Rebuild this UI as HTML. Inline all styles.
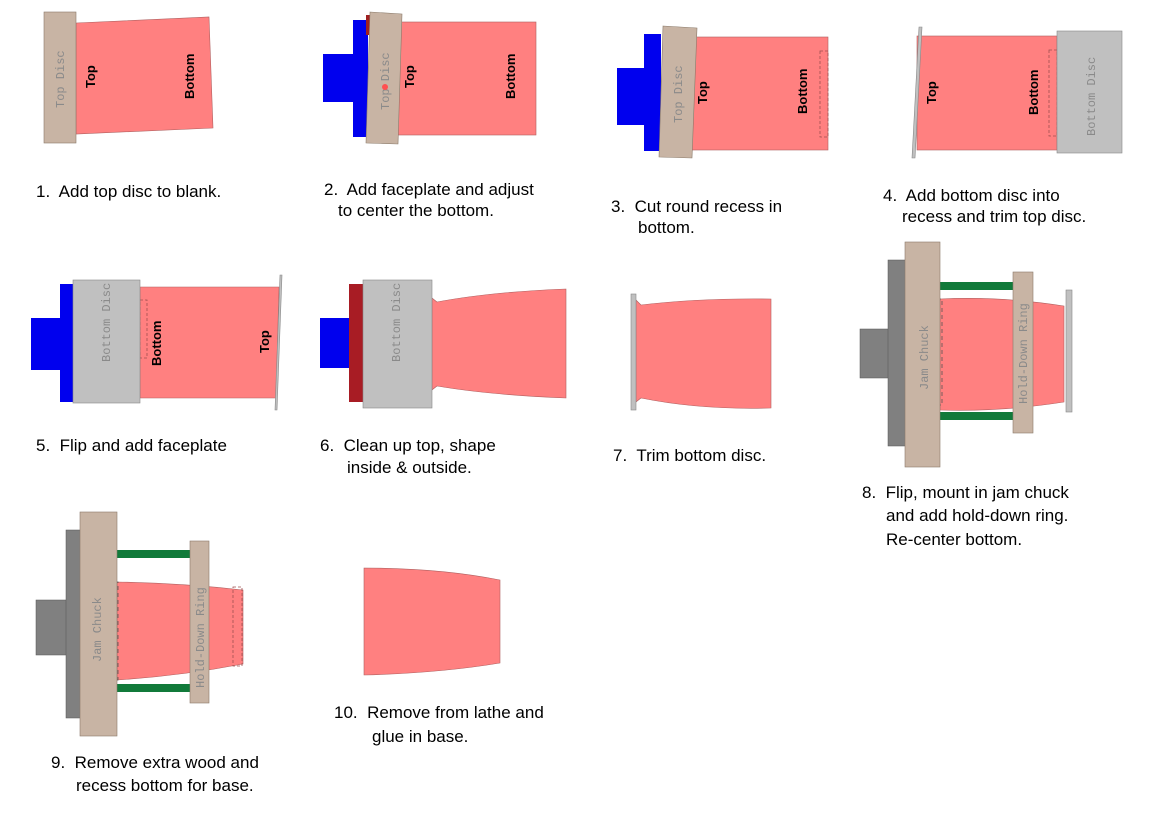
<!DOCTYPE html>
<html><head><meta charset="utf-8"><style>
body{margin:0;background:#fff;}
svg{display:block;}
.cap{font-family:"Liberation Sans",Arial,sans-serif;font-size:17px;fill:#000;white-space:pre;}
.lb{font-family:"Liberation Sans",Arial,sans-serif;font-size:13px;font-weight:bold;fill:#000;}
.mono{font-family:"Liberation Mono",monospace;font-size:12px;fill:#8a8a8a;}
.pk{fill:#ff8080;stroke:#b06060;stroke-width:0.6;}
.tan{fill:#c8b4a4;stroke:#8a7a6a;stroke-width:0.6;}
.gr{fill:#c0c0c0;stroke:#888;stroke-width:0.6;}
.bl{fill:#0000ee;}
.dk{fill:#808080;stroke:#555;stroke-width:0.5;}
.gn{fill:#117a3a;}
.ds{fill:none;stroke:#a05050;stroke-width:0.8;stroke-dasharray:3,2;}
.dsk{fill:none;stroke:#555;stroke-width:0.8;stroke-dasharray:4,3;}
</style></head><body>
<svg width="1150" height="824" viewBox="0 0 1150 824" xmlns="http://www.w3.org/2000/svg" xml:space="preserve">
<polygon class="pk" points="76,23 209,17 213,128 76,134"/>
<rect class="tan" x="44" y="12" width="32" height="131"/>
<text class="mono" transform="translate(64,108) rotate(-90)">Top Disc</text>
<text class="lb" transform="translate(95,88) rotate(-90)">Top</text>
<text class="lb" transform="translate(194,99) rotate(-90)">Bottom</text>
<text class="cap" x="36" y="197">1.  Add top disc to blank.</text>

<rect class="bl" x="323" y="54" width="32" height="48"/>
<rect class="bl" x="353" y="20" width="15" height="117"/>
<rect x="366" y="15" width="5" height="20" fill="#a02020"/>
<rect class="pk" x="398" y="22" width="138" height="113"/>
<polygon class="tan" points="370,12 402,14 398,144 366,143"/>
<text class="mono" transform="translate(389,110) rotate(-90)">Top Disc</text>
<circle cx="385" cy="87" r="3" fill="#ff5050"/>
<text class="lb" transform="translate(414,88) rotate(-90)">Top</text>
<text class="lb" transform="translate(515,99) rotate(-90)">Bottom</text>
<text class="cap" x="324" y="195">2.  Add faceplate and adjust</text>
<text class="cap" x="338" y="216">to center the bottom.</text>

<rect class="bl" x="617" y="68" width="28" height="57"/>
<rect class="bl" x="644" y="34" width="17" height="117"/>
<rect class="pk" x="689" y="37" width="139" height="113"/>
<rect class="ds" x="820" y="51" width="8" height="86"/>
<polygon class="tan" points="663,26 697,28 692,158 659,157"/>
<text class="mono" transform="translate(682,123) rotate(-90)">Top Disc</text>
<text class="lb" transform="translate(707,104) rotate(-90)">Top</text>
<text class="lb" transform="translate(807,114) rotate(-90)">Bottom</text>
<text class="cap" x="611" y="212">3.  Cut round recess in</text>
<text class="cap" x="638" y="233">bottom.</text>

<rect class="pk" x="917" y="36" width="140" height="114"/>
<rect class="ds" x="1049" y="50" width="8" height="86"/>
<polygon class="gr" points="919,27 922,27 915,158 912,158"/>
<rect class="gr" x="1057" y="31" width="65" height="122"/>
<text class="mono" transform="translate(1095,136) rotate(-90)">Bottom Disc</text>
<text class="lb" transform="translate(936,104) rotate(-90)">Top</text>
<text class="lb" transform="translate(1038,115) rotate(-90)">Bottom</text>
<text class="cap" x="883" y="201">4.  Add bottom disc into</text>
<text class="cap" x="902" y="222">recess and trim top disc.</text>

<rect class="bl" x="31" y="318" width="31" height="52"/>
<rect class="bl" x="60" y="284" width="15" height="118"/>
<polygon class="pk" points="140,287 279,287 276,398 140,398"/>
<rect class="ds" x="140" y="300" width="7" height="58"/>
<rect class="gr" x="73" y="280" width="67" height="123"/>
<polygon class="gr" points="280,275 282,275 277,410 275,410"/>
<text class="mono" transform="translate(110,362) rotate(-90)">Bottom Disc</text>
<text class="lb" transform="translate(161,366) rotate(-90)">Bottom</text>
<text class="lb" transform="translate(269,353) rotate(-90)">Top</text>
<text class="cap" x="36" y="451">5.  Flip and add faceplate</text>

<rect class="bl" x="320" y="318" width="30" height="50"/>
<rect x="349" y="284" width="16" height="118" fill="#a81c24"/>
<path class="pk" d="M432,298 L437,302 Q490,292 566,289 L566,398 Q490,395 437,386 L432,390 Z"/>
<rect class="gr" x="363" y="280" width="69" height="128"/>
<text class="mono" transform="translate(400,362) rotate(-90)">Bottom Disc</text>
<text class="cap" x="320" y="451">6.  Clean up top, shape</text>
<text class="cap" x="347" y="473">inside &amp; outside.</text>

<path class="pk" d="M636,300 L641,305 Q700,298 771,299 L771,408 Q700,410 641,398 L636,402 Z"/>
<rect class="gr" x="631" y="294" width="5" height="116"/>
<text class="cap" x="613" y="461">7.  Trim bottom disc.</text>

<rect class="dk" x="860" y="329" width="30" height="49"/>
<rect class="dk" x="888" y="260" width="18" height="186"/>
<path class="pk" d="M940,299 Q1000,296 1064,306 L1064,402 Q1000,412 940,410 Z"/>
<rect class="gn" x="940" y="282" width="74" height="8"/>
<rect class="gn" x="940" y="412" width="74" height="8"/>
<rect class="dsk" x="930" y="299" width="12" height="106"/>
<rect class="tan" x="905" y="242" width="35" height="225"/>
<rect class="tan" x="1013" y="272" width="20" height="161"/>
<rect class="gr" x="1066" y="290" width="6" height="122"/>
<text class="mono" transform="translate(928,390) rotate(-90)">Jam Chuck</text>
<text class="mono" transform="translate(1027,404) rotate(-90)">Hold-Down Ring</text>
<text class="cap" x="862" y="498">8.  Flip, mount in jam chuck</text>
<text class="cap" x="886" y="521">and add hold-down ring.</text>
<text class="cap" x="886" y="545">Re-center bottom.</text>

<rect class="dk" x="36" y="600" width="31" height="55"/>
<rect class="dk" x="66" y="530" width="16" height="188"/>
<path class="pk" d="M117,582 Q180,583 243,590 L243,664 Q180,676 117,680 Z"/>
<rect class="gn" x="117" y="550" width="74" height="8"/>
<rect class="gn" x="117" y="684" width="74" height="8"/>
<rect class="dsk" x="108" y="582" width="10" height="98"/>
<rect class="ds" x="233" y="587" width="9" height="79"/>
<rect class="tan" x="80" y="512" width="37" height="224"/>
<rect class="tan" x="190" y="541" width="19" height="162"/>
<text class="mono" transform="translate(101,662) rotate(-90)">Jam Chuck</text>
<text class="mono" transform="translate(204,688) rotate(-90)">Hold-Down Ring</text>
<text class="cap" x="51" y="768">9.  Remove extra wood and</text>
<text class="cap" x="76" y="791">recess bottom for base.</text>

<path class="pk" d="M364,568 Q440,568 500,580 L500,663 Q440,673 364,675 Z"/>
<text class="cap" x="334" y="718">10.  Remove from lathe and</text>
<text class="cap" x="372" y="742">glue in base.</text>
</svg>
</body></html>
